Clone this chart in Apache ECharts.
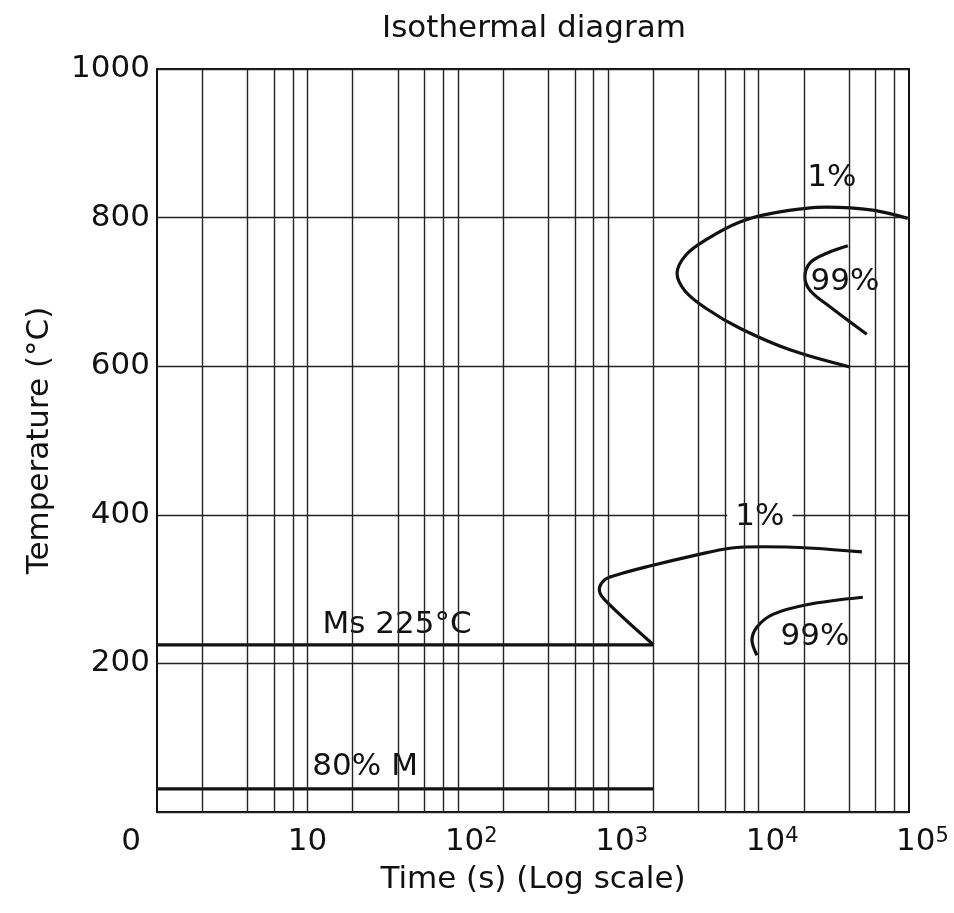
<!DOCTYPE html>
<html>
<head>
<meta charset="utf-8">
<title>Isothermal diagram</title>
<script src="https://cdn.jsdelivr.net/npm/echarts/dist/echarts.min.js"></script>
<style>
    html, body { margin: 0; padding: 0; background: #fff; }
    #chart { width: 954px; height: 913px; }
</style>
</head>
<body>
<div id="chart"></div>
<script>
// 时间轴(对数)刻度
var xTickValues = [1, 10, 100, 1000, 10000, 100000];
var xTickBase = ['0', '10', '10', '10', '10', '10'];
var xTickSup = ['', '', '2', '3', '4', '5'];
// 竖向细网格: 每个十倍区间里的 2,4,6,8,10
var gridDecades = [1, 10, 100, 1000, 10000];
var gridSteps = [2, 4, 6, 8, 10];

// 曲线数据 [时间 s, 温度 °C]
var pearliteStart = [[98000, 799], [57400, 810], [28400, 814], [12450, 806], [7510, 794], [4540, 771],
    [3300, 750], [2870, 725], [3250, 701], [4540, 677], [7510, 651], [16150, 622], [40400, 599]];
var pearliteEnd = [[39200, 762], [28400, 752], [22200, 740], [20300, 720], [22000, 702], [29800, 680], [52400, 643]];
var bainiteStart = [[2000, 225], [952, 285], [873, 299], [940, 312], [1138, 319], [1803, 330],
    [3890, 346], [6450, 355], [10700, 357], [22960, 355], [48600, 350]];
var bainiteEnd = [[9750, 211], [9040, 231], [9750, 249], [12450, 266], [20900, 279], [49300, 289]];
var msLine = [[1, 225], [2000, 225]];
var m80Line = [[1, 31], [2000, 31]];

// 标注文字
var annoText = ['1%', '99%', '1%', '99%', 'Ms 225°C', '80% M'];
var annoTime = [30700, 37500, 10200, 23700, 39.5, 24.2];
var annoTemp = [853, 713, 397, 236, 252, 61];

var myChart = echarts.init(document.getElementById('chart'));

var gridLines = [];
gridDecades.forEach(function(d) {
    gridSteps.forEach(function(s) {
        if (d * s < 100000) gridLines.push({ xAxis: d * s });
    });
});

var annoData = annoTime.map(function(t, i) { return [t, annoTemp[i]]; });

function curve(name, data, smooth) {
    return {
        name: name,
        type: 'line',
        data: data,
        showSymbol: false,
        smooth: smooth,
        z: 3,
        lineStyle: { color: '#111', width: 3.2 },
        itemStyle: { color: '#111' }
    };
}

var option = {
    animation: false,
    backgroundColor: '#fff',
    textStyle: { fontFamily: 'DejaVu Sans', color: '#111' },
    title: {
        text: 'Isothermal diagram',
        left: 377,
        top: 8,
        textStyle: { fontSize: 31, fontWeight: 'normal', color: '#111', fontFamily: 'DejaVu Sans' }
    },
    grid: {
        left: 157,
        right: 45,
        top: 69,
        bottom: 101,
        show: true,
        borderColor: '#111',
        borderWidth: 2
    },
    xAxis: {
        type: 'log',
        logBase: 10,
        min: 1,
        max: 100000,
        name: 'Time (s) (Log scale)',
        nameLocation: 'middle',
        nameGap: 52,
        nameTextStyle: { fontSize: 31, color: '#111' },
        axisLine: { show: false },
        axisTick: { show: false },
        splitLine: { show: false },
        axisLabel: {
            margin: 14,
            color: '#111',
            formatter: function(v) {
                var i = Math.round(Math.log10(v));
                if (i === 0) return '{z|' + xTickBase[i] + '}';
                if (xTickSup[i] === '') return '{b|' + xTickBase[i] + '}';
                return '{p|' + xTickBase[i] + '}{s|' + xTickSup[i] + '}';
            },
            rich: {
                z: { fontSize: 31, padding: [0, 52, 0, 0], lineHeight: 32 },
                b: { fontSize: 31, lineHeight: 32 },
                p: { fontSize: 31, padding: [0, 0, 0, 27], lineHeight: 32 },
                s: { fontSize: 21, lineHeight: 21, verticalAlign: 'top' }
            }
        }
    },
    yAxis: {
        type: 'value',
        min: 0,
        max: 1000,
        interval: 200,
        name: 'Temperature (°C)',
        nameLocation: 'middle',
        nameGap: 102,
        nameTextStyle: { fontSize: 31, color: '#111' },
        axisLine: { show: false },
        axisTick: { show: false },
        axisLabel: {
            margin: 7,
            fontSize: 31,
            color: '#111',
            formatter: function(v) { return v === 0 ? '' : v; }
        },
        splitLine: { show: true, lineStyle: { color: '#222', width: 1.4 } }
    },
    series: [
        {
            // 竖向网格线
            name: 'grid',
            type: 'line',
            data: [],
            z: 1,
            silent: true,
            markLine: {
                silent: true,
                symbol: ['none', 'none'],
                label: { show: false },
                lineStyle: { color: '#222', width: 1.4, type: 'solid' },
                data: gridLines
            }
        },
        {
            // 标注
            name: 'labels',
            type: 'scatter',
            data: annoData,
            z: 2,
            symbolSize: 1,
            silent: true,
            itemStyle: { color: '#fff', opacity: 1 },
            label: {
                show: true,
                position: 'inside',
                fontSize: 31,
                color: '#111',
                opacity: 1,
                textBorderWidth: 0,
                backgroundColor: '#fff',
                padding: [12, 8, 6, 8],
                formatter: function(p) { return annoText[p.dataIndex]; }
            }
        },
        curve('1% upper', pearliteStart, 0.35),
        curve('99% upper', pearliteEnd, 0.35),
        curve('1% lower', bainiteStart, 0.35),
        curve('99% lower', bainiteEnd, 0.35),
        curve('Ms', msLine, false),
        curve('80% M', m80Line, false)
    ]
};
myChart.setOption(option);
</script>
</body>
</html>
